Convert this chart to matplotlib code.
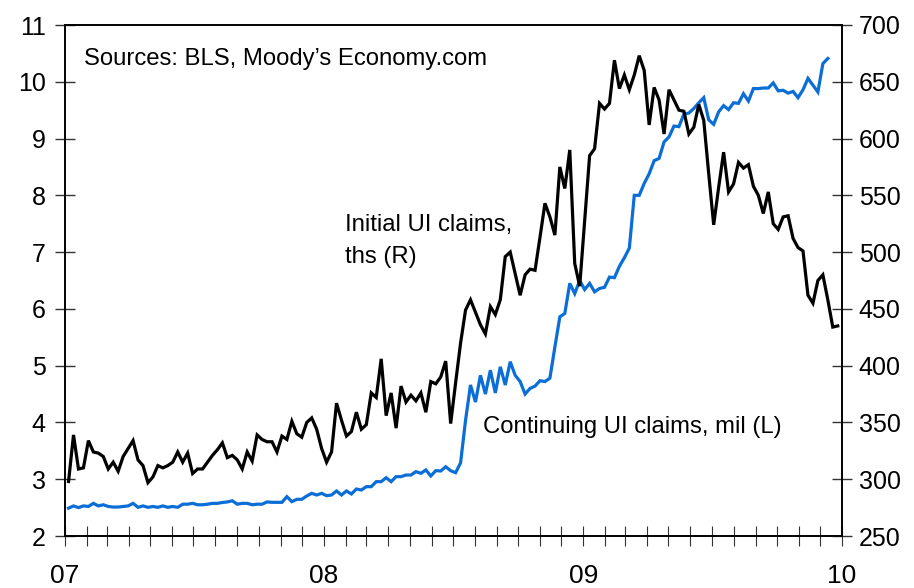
import matplotlib
matplotlib.use("Agg")
import matplotlib.pyplot as plt
import pandas as pd

plt.rcParams['font.family'] = ['Liberation Sans', 'DejaVu Sans']

# ---- data (weekly) ----
initial_start = "2007-01-06"
initial_claims_ths = [
    298, 339, 309, 310, 334, 324, 323, 320, 309, 315,
    307, 320, 327, 334, 317, 312, 297, 302, 312, 310,
    312, 315, 324, 315, 323, 305, 309, 309, 315, 321,
    326, 332, 319, 321, 317, 309, 324, 316, 339, 335,
    333, 333, 324, 338, 335, 351, 340, 337, 350, 354,
    344, 327, 315, 324, 367, 352, 338, 342, 359, 344,
    348, 376, 372, 406, 356, 376, 345, 382, 368, 374,
    369, 376, 359, 386, 384, 390, 404, 349, 385, 420,
    449, 458, 447, 436, 428, 452, 445, 458, 496, 500,
    481, 462, 480, 485, 484, 513, 543, 531, 515, 575,
    556, 590, 490, 470, 527, 585, 591, 631, 626, 631,
    669, 644, 656, 643, 656, 673, 660, 612, 645, 634,
    604, 643, 634, 625, 624, 604, 610, 630, 616, 569,
    524, 557, 588, 553, 560, 579, 574, 577, 558, 550,
    534, 553, 525, 520, 531, 532, 512, 504, 501, 462,
    455, 475, 480, 458, 434, 435,
]

continuing_start = "2007-01-06"
continuing_claims_mil = [
    2.49, 2.53, 2.50, 2.53, 2.52, 2.575, 2.53, 2.55, 2.52, 2.51,
    2.51, 2.52, 2.53, 2.575, 2.505, 2.53, 2.505, 2.52, 2.505, 2.53,
    2.505, 2.52, 2.505, 2.56, 2.56, 2.575, 2.55, 2.55, 2.56, 2.575,
    2.575, 2.59, 2.60, 2.62, 2.56, 2.575, 2.575, 2.55, 2.56, 2.56,
    2.60, 2.593, 2.593, 2.593, 2.693, 2.605, 2.646, 2.646, 2.705, 2.751,
    2.722, 2.751, 2.71, 2.722, 2.793, 2.722, 2.793, 2.74, 2.828, 2.81,
    2.869, 2.869, 2.957, 2.957, 3.027, 2.957, 3.045, 3.045, 3.074, 3.074,
    3.133, 3.104, 3.163, 3.057, 3.151, 3.145, 3.22, 3.15, 3.115, 3.29,
    4.04, 4.66, 4.36, 4.83, 4.50, 4.92, 4.52, 4.98, 4.66, 5.07,
    4.83, 4.72, 4.50, 4.60, 4.64, 4.735, 4.72, 4.78, 5.33, 5.86,
    5.92, 6.45, 6.27, 6.50, 6.34, 6.45, 6.30, 6.36, 6.38, 6.56,
    6.55, 6.75, 6.90, 7.07, 8.00, 8.00, 8.21, 8.38, 8.61, 8.65,
    8.94, 9.03, 9.22, 9.21, 9.43, 9.45, 9.53, 9.63, 9.72, 9.33,
    9.25, 9.47, 9.58, 9.51, 9.63, 9.62, 9.79, 9.66, 9.88, 9.88,
    9.89, 9.89, 9.98, 9.84, 9.85, 9.80, 9.83, 9.72, 9.86, 10.06,
    9.94, 9.82, 10.32, 10.41,
]

year_labels = ["07", "08", "09", "10"]
left_ticks = [2, 3, 4, 5, 6, 7, 8, 9, 10, 11]
right_ticks = [250, 300, 350, 400, 450, 500, 550, 600, 650, 700]

initial_dates = pd.date_range(initial_start, periods=len(initial_claims_ths), freq="7D")
continuing_dates = pd.date_range(continuing_start, periods=len(continuing_claims_mil), freq="7D")

# ---- figure ----
fig = plt.figure(figsize=(9.14, 5.88), dpi=100)
ax = fig.add_axes([65 / 914, 1 - 536 / 588, (842 - 65) / 914, (536 - 25) / 588])
ax2 = ax.twinx()

BLUE = "#0a6ed6"
ax.plot(continuing_dates, continuing_claims_mil, color=BLUE, lw=2.3,
        solid_joinstyle="miter")
ax2.plot(initial_dates, initial_claims_ths, color="black", lw=2.3,
         solid_joinstyle="miter")

x0 = pd.Timestamp("2007-01-01")
x1 = pd.Timestamp("2010-01-01")
ax.set_xlim(x0, x1)
ax.set_ylim(left_ticks[0], left_ticks[-1])
ax2.set_ylim(right_ticks[0], right_ticks[-1])

ax.set_yticks(left_ticks)
ax2.set_yticks(right_ticks)

month_ticks = pd.date_range(x0, x1, freq="MS")
ax.set_xticks(month_ticks)
labels = []
for d in month_ticks:
    if d.month == 1:
        labels.append(year_labels[d.year - 2007])
    else:
        labels.append("")
ax.set_xticklabels(labels)

for a in (ax, ax2):
    for s in a.spines.values():
        s.set_linewidth(1.2)
        s.set_color("black")

ax.tick_params(axis="y", direction="inout", length=14, width=1.0,
               labelsize=18, pad=7, color="#333333")
ax2.tick_params(axis="y", direction="inout", length=14, width=1.0,
                labelsize=18, pad=5, color="#333333")
ax.tick_params(axis="x", direction="inout", length=14, width=0.8,
               labelsize=19, pad=13, color="#333333")

fs = 17.2
ax.text(0.024, 0.922, "Sources: BLS, Moody\u2019s Economy.com", transform=ax.transAxes,
        fontsize=fs, ha="left", va="baseline")
ax.text(0.361, 0.596, "Initial UI claims,", transform=ax.transAxes,
        fontsize=fs, ha="left", va="baseline")
ax.text(0.361, 0.535, "ths (R)", transform=ax.transAxes,
        fontsize=fs, ha="left", va="baseline")
ax.text(0.538, 0.202, "Continuing UI claims, mil (L)", transform=ax.transAxes,
        fontsize=fs, ha="left", va="baseline")

fig.savefig("out.png", dpi=100)
